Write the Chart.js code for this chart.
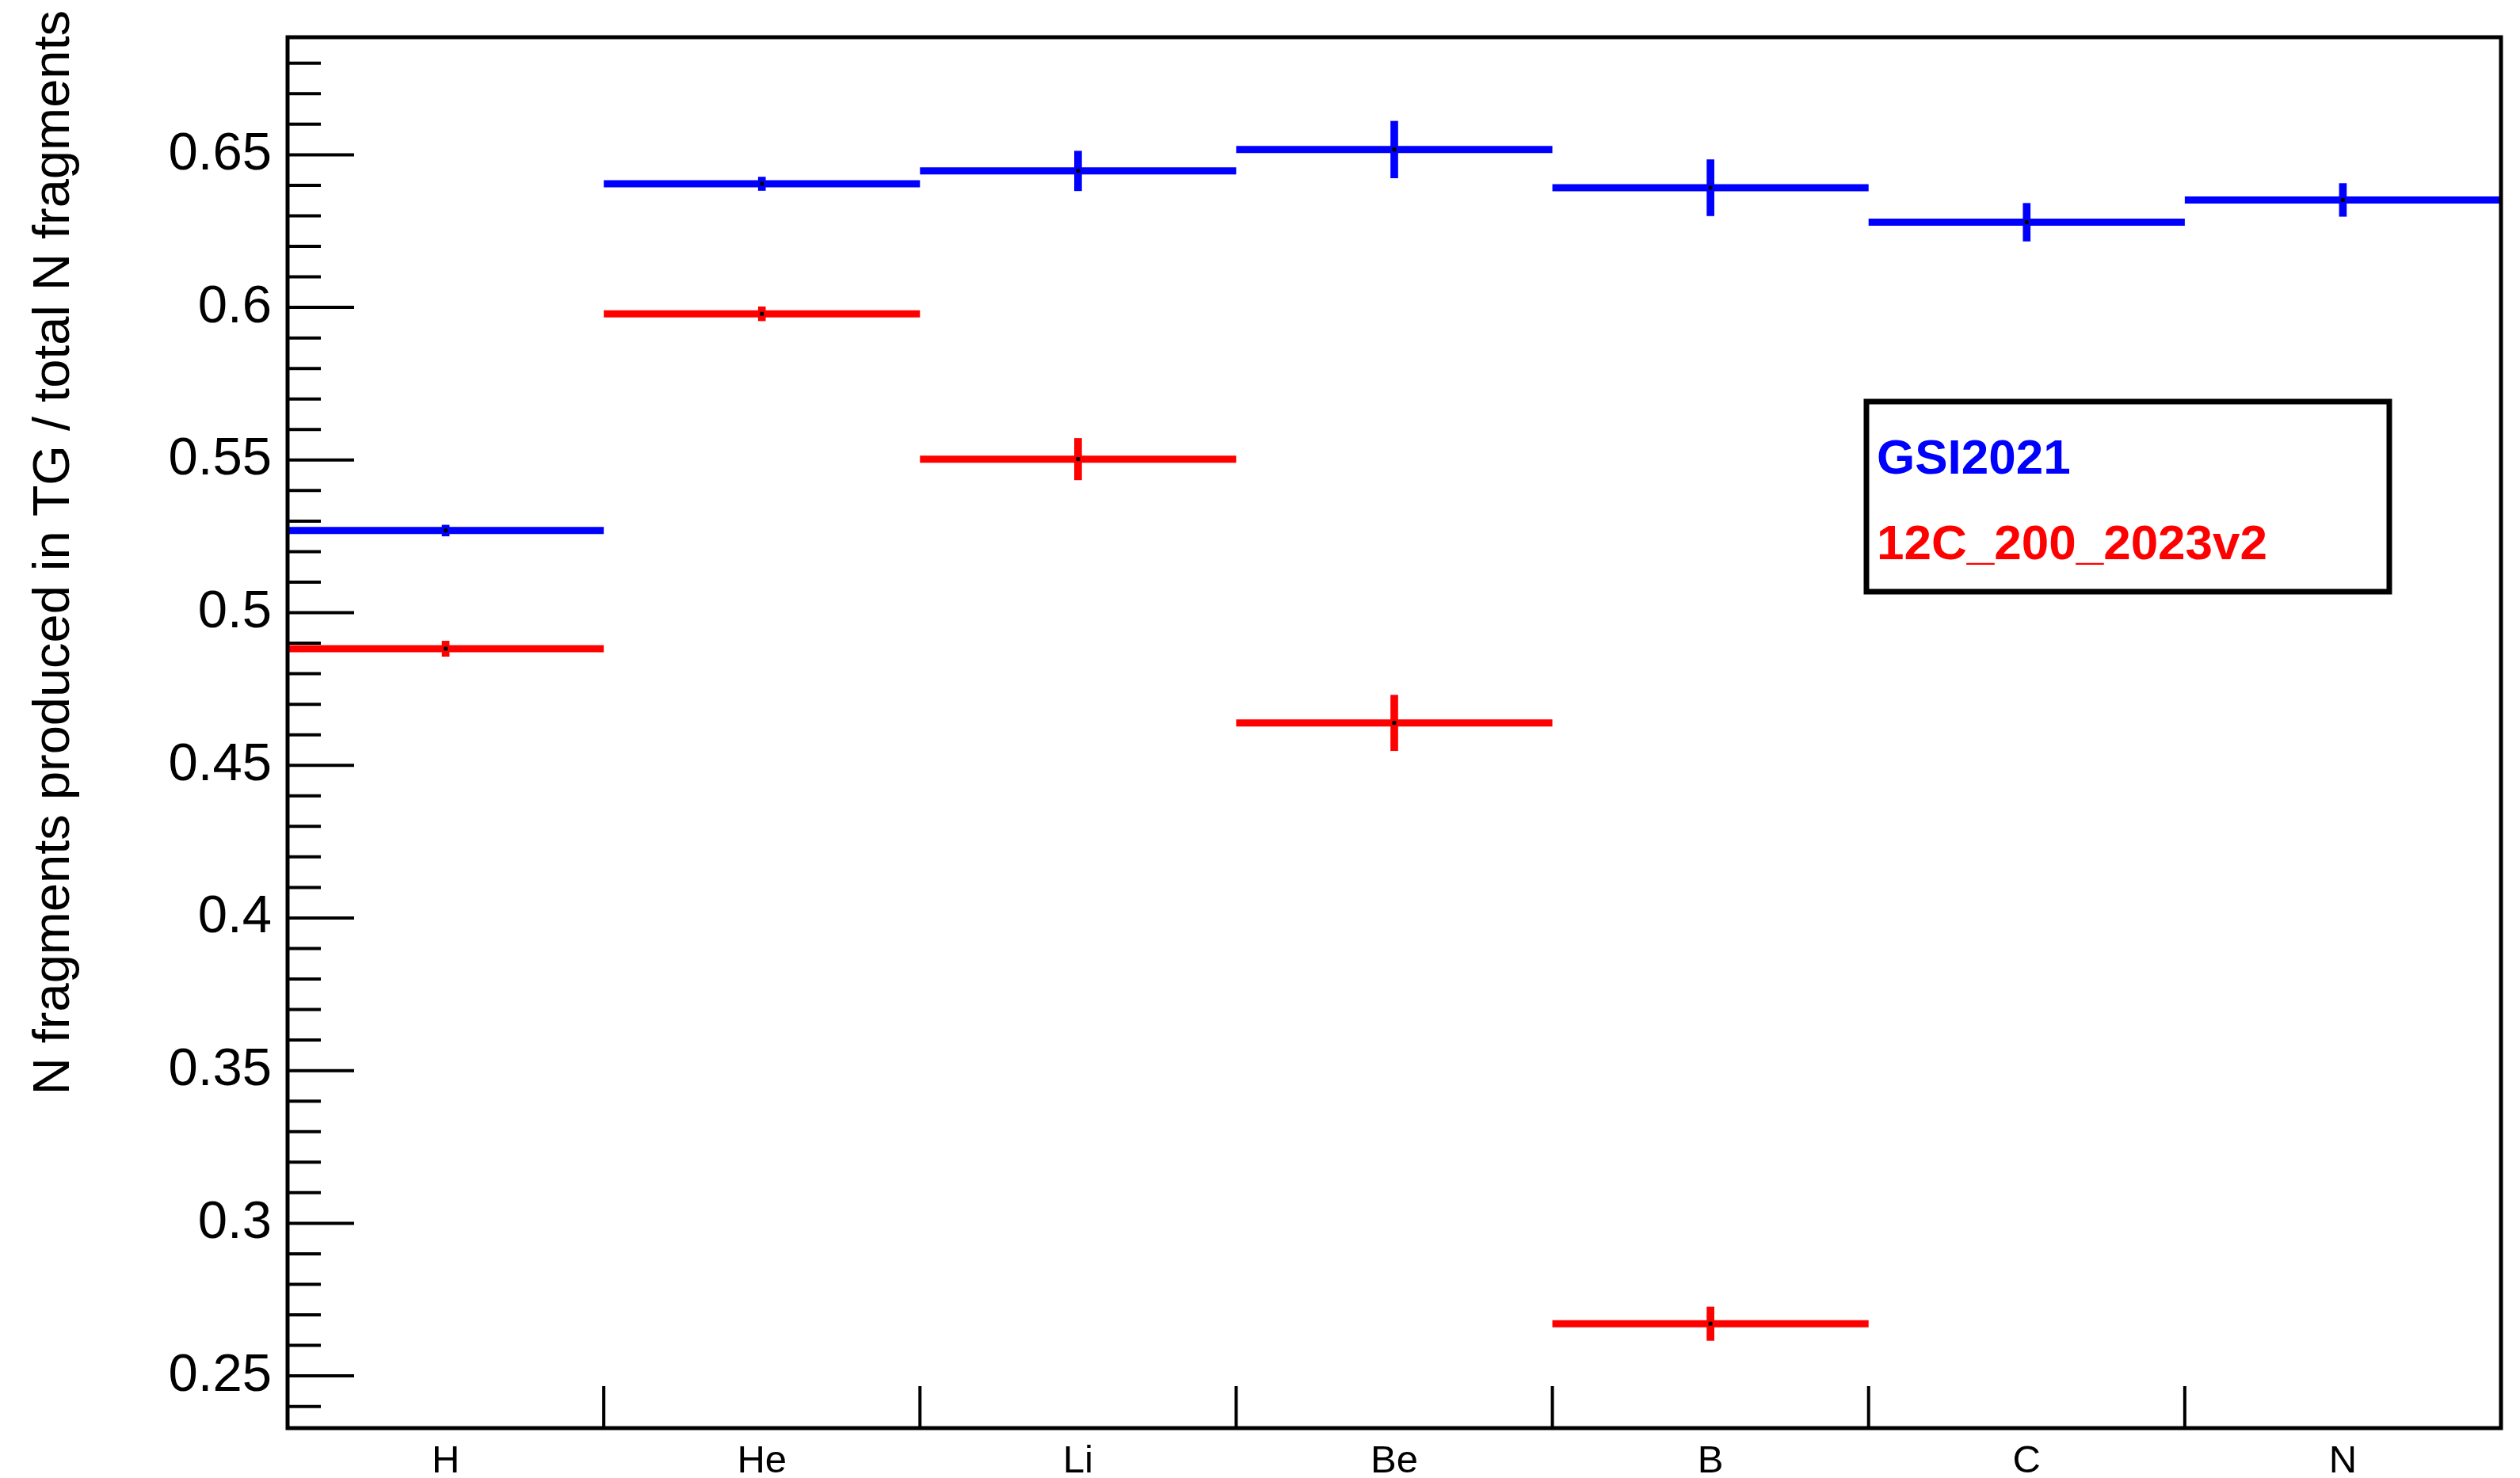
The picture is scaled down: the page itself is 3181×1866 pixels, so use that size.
<!DOCTYPE html>
<html>
<head>
<meta charset="utf-8">
<script src="https://cdn.jsdelivr.net/npm/chart.js@4.4.1/dist/chart.umd.min.js"></script>
<style>
  html, body { margin: 0; padding: 0; background: #ffffff; }
  #wrap { width: 3181px; height: 1866px; }
</style>
</head>
<body>
<div id="wrap"><canvas id="chart" width="3181" height="1866"></canvas></div>
<script>
// Fragment species (bins)
const categories = ['H', 'He', 'Li', 'Be', 'B', 'C', 'N'];

// Fraction of N fragments produced in the target, per species
const seriesNames = ['GSI2021', '12C_200_2023v2'];
const gsiValues = [0.5269, 0.6405, 0.6447, 0.6517, 0.6392, 0.6279, 0.6352];
const gsiErrors = [0.0018, 0.0022, 0.0065, 0.0093, 0.0092, 0.0062, 0.0054];
const mcValues  = [0.4882, 0.5979, 0.5503, 0.4639, 0.2671, null, null];
const mcErrors  = [0.0025, 0.0023, 0.0068, 0.0091, 0.0055, null, null];

// Axis
const yTickValues = [0.25, 0.3, 0.35, 0.4, 0.45, 0.5, 0.55, 0.6, 0.65];
const yMin = 0.2329;
const yMax = 0.6885;
const yTitle = 'N fragments produced in TG / total N fragments';

const FONT = "'Liberation Sans', Arial, Helvetica, sans-serif";
const BLUE = 'rgb(0,0,255)';
const RED = 'rgb(255,0,0)';

// Horizontal bin segments: one segment per bin, broken between bins
function binSegments(values) {
  const pts = [];
  values.forEach((v, i) => {
    if (v === null) return;
    pts.push({ x: i, y: v }, { x: i + 1, y: v }, { x: i + 1, y: null });
  });
  return pts;
}
// Vertical error bars as floating bars at bin centres
function errorBars(values, errors) {
  return values.map((v, i) => v === null ? null : { x: i + 0.5, y: [v - errors[i], v + errors[i]] })
               .filter(p => p !== null);
}
function centres(values) {
  return values.map((v, i) => v === null ? null : { x: i + 0.5, y: v }).filter(p => p !== null);
}

// Frame, inward ticks, axis title and legend box
const decorations = {
  id: 'decorations',
  afterDraw(chart) {
    const { ctx, chartArea: a, scales } = chart;
    const ys = scales.y, xs = scales.x;
    ctx.save();
    ctx.strokeStyle = '#000';
    ctx.lineCap = 'butt';

    // y ticks: major every 0.05, minor every 0.01
    ctx.lineWidth = 4;
    for (let k = 20; k <= 70; k++) {
      const v = k / 100;
      if (v < yMin || v > yMax) continue;
      const py = ys.getPixelForValue(v);
      const len = (k % 5 === 0) ? 84 : 42;
      ctx.beginPath();
      ctx.moveTo(a.left, py);
      ctx.lineTo(a.left + len, py);
      ctx.stroke();
    }
    // x ticks at bin edges
    for (let i = 1; i < categories.length; i++) {
      const px = xs.getPixelForValue(i);
      ctx.beginPath();
      ctx.moveTo(px, a.bottom);
      ctx.lineTo(px, a.bottom - 53);
      ctx.stroke();
    }
    // frame
    ctx.lineWidth = 5;
    ctx.strokeRect(a.left, a.top, a.right - a.left, a.bottom - a.top);

    // y-axis title, right-aligned to the top
    ctx.fillStyle = '#000';
    ctx.font = '65px ' + FONT;
    ctx.translate(87, 13);
    ctx.rotate(-Math.PI / 2);
    ctx.textAlign = 'right';
    ctx.textBaseline = 'alphabetic';
    ctx.fillText(yTitle, 0, 0);
    ctx.restore();

    // legend
    ctx.save();
    ctx.lineWidth = 7;
    ctx.strokeStyle = '#000';
    ctx.fillStyle = '#fff';
    ctx.fillRect(2356, 507, 660, 240);
    ctx.strokeRect(2356, 507, 660, 240);
    ctx.font = 'bold 62px ' + FONT;
    ctx.textAlign = 'left';
    ctx.textBaseline = 'alphabetic';
    ctx.fillStyle = chart.data.datasets[0].borderColor;
    ctx.fillText(chart.data.datasets[0].label, 2369, 598);
    ctx.fillStyle = chart.data.datasets[1].borderColor;
    ctx.fillText(chart.data.datasets[1].label, 2369, 706);
    ctx.restore();
  }
};

new Chart(document.getElementById('chart'), {
  type: 'line',
  data: {
    datasets: [
      { type: 'line', label: seriesNames[0], data: binSegments(gsiValues), borderColor: BLUE,
        borderWidth: 9, borderCapStyle: 'butt', pointRadius: 0, spanGaps: false, order: 3 },
      { type: 'line', label: seriesNames[1], data: binSegments(mcValues), borderColor: RED,
        borderWidth: 9, borderCapStyle: 'butt', pointRadius: 0, spanGaps: false, order: 3 },
      { type: 'bar', label: seriesNames[0] + ' err', data: errorBars(gsiValues, gsiErrors),
        backgroundColor: BLUE, borderWidth: 0, barThickness: 9, grouped: false, order: 2 },
      { type: 'bar', label: seriesNames[1] + ' err', data: errorBars(mcValues, mcErrors),
        backgroundColor: RED, borderWidth: 0, barThickness: 9, grouped: false, order: 2 },
      { type: 'scatter', label: 'markers', data: centres(gsiValues).concat(centres(mcValues)),
        pointStyle: 'rect', pointRadius: 3.5, backgroundColor: '#000', borderWidth: 0, order: 1 }
    ]
  },
  options: {
    responsive: false,
    animation: false,
    devicePixelRatio: 1,
    layout: { padding: { top: 47, right: 24, left: 0, bottom: 0 } },
    plugins: { legend: { display: false }, tooltip: { enabled: false } },
    scales: {
      x: {
        type: 'linear', min: 0, max: 7, offset: false,
        grid: { display: false, drawTicks: false },
        border: { display: false },
        afterBuildTicks: s => { s.ticks = categories.map((c, i) => ({ value: i + 0.5 })); },
        ticks: {
          autoSkip: false, maxRotation: 0, minRotation: 0, padding: 13,
          color: '#000', font: { size: 49, family: FONT },
          callback: v => categories[Math.floor(v)]
        },
        afterFit: s => { s.height = 63; s.paddingLeft = 0; s.paddingRight = 0; }
      },
      y: {
        type: 'linear', min: yMin, max: yMax,
        grid: { display: false, drawTicks: false },
        border: { display: false },
        afterBuildTicks: s => { s.ticks = yTickValues.map(v => ({ value: v })); },
        ticks: {
          padding: 20, color: '#000', font: { size: 67, family: FONT },
          callback: v => String(+v.toFixed(2))
        },
        afterFit: s => { s.width = 363; s.paddingTop = 0; s.paddingBottom = 0; }
      }
    }
  },
  plugins: [decorations]
});
</script>
</body>
</html>
